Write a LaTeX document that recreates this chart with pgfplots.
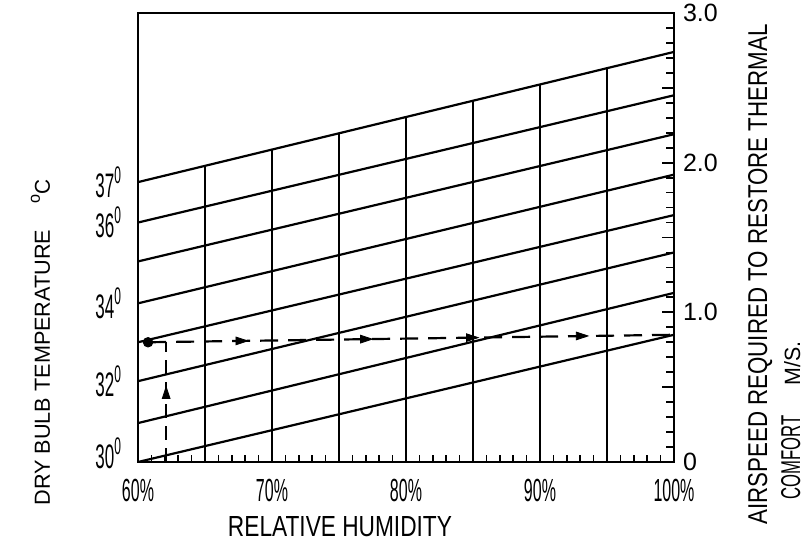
\documentclass[border=0pt]{standalone}
\usepackage{fontspec}
\setmainfont{Liberation Sans}[FakeStretch=0.7]
\newfontfamily\tickfont{Liberation Sans}[FakeStretch=0.5]
\newfontfamily\rfont{Liberation Sans}
\usepackage{graphicx}
\usepackage{pgfplots}
\pgfplotsset{compat=1.18}
\newcommand\dg[1]{#1\raisebox{0.42em}{\fontsize{12}{12}\selectfont 0}}
\begin{document}
\begin{tikzpicture}
\begin{axis}[name=ax, scale only axis, width=268pt, height=224.5pt,
  xmin=60, xmax=100, ymin=0, ymax=3,
  /pgf/number format/assume math mode=true,
  axis line style={line width=1.4pt},
  tick align=inside,
  xtick={60,70,80,90,100},
  xticklabels={60\%,70\%,80\%,90\%,100\%},
  minor xtick={61,62,63,64,65,66,67,68,69,71,72,73,74,75,76,77,78,79,81,82,83,84,85,86,87,88,89,91,92,93,94,95,96,97,98,99},
  xtick pos=lower,
  x tick style={line width=0.8pt, black},
  minor x tick style={line width=0.8pt, black},
  major tick length=4pt, minor tick length=3.5pt,
  xticklabel style={font=\tickfont\fontsize{16}{18}\selectfont, yshift=-5pt},
  ytick={0.06,0.54,1.06,1.60,1.87},
  yticklabels={\dg{30},\dg{32},\dg{34},\dg{36},\dg{37}},
  ytick pos=left,
  y tick style={draw=none},
  yticklabel style={font=\tickfont\fontsize{17}{19}\selectfont, xshift=-5pt},
]
% vertical grid lines from the bottom up to the 37 degree line
\addplot[ycomb, line width=0.7pt, black] coordinates {(65,1.98) (70,2.09) (75,2.20) (80,2.31) (85,2.41) (90,2.52) (95,2.63)};
% dry bulb temperature lines 30..37
\addplot[line width=1.1pt, black] coordinates {(60,0.00) (100,0.85)};
\addplot[line width=1.1pt, black] coordinates {(60,0.26) (100,1.13)};
\addplot[line width=1.1pt, black] coordinates {(60,0.54) (100,1.40)};
\addplot[line width=1.1pt, black] coordinates {(60,0.80) (100,1.65)};
\addplot[line width=1.1pt, black] coordinates {(60,1.06) (100,1.92)};
\addplot[line width=1.1pt, black] coordinates {(60,1.34) (100,2.19)};
\addplot[line width=1.1pt, black] coordinates {(60,1.60) (100,2.45)};
\addplot[line width=1.1pt, black] coordinates {(60,1.87) (100,2.74)};
% worked example (dashed)
\addplot[line width=1.1pt, black, dash pattern=on 7pt off 4pt] coordinates {(62.1,0) (62.1,0.80)};
\addplot[line width=1.1pt, black, dash pattern=on 9pt off 5pt] coordinates {(60.75,0.80) (100,0.85)};
\addplot[only marks, mark=triangle*, mark size=2.8pt, mark options={fill=black, yscale=1.4, xscale=0.8}] coordinates {(62.1,0.45)};
\addplot[only marks, mark=triangle*, mark size=2.8pt, mark options={fill=black, rotate=-90, yscale=1.4, xscale=0.8}] coordinates {(67.6,0.809) (76.9,0.821) (84.8,0.831) (93.0,0.842)};
\addplot[only marks, mark=*, mark size=2.4pt, mark options={fill=black}] coordinates {(60.75,0.80)};
\end{axis}
\begin{axis}[scale only axis, width=268pt, height=224.5pt,
  xmin=60, xmax=100, ymin=0, ymax=3,
  /pgf/number format/assume math mode=true,
  axis x line=none, axis y line*=right,
  axis line style={line width=1.4pt, -},
  tick align=inside,
  ytick={0,0.5,1,1.5,2,2.5,3},
  yticklabels={0,,1.0,,2.0,,3.0},
  minor ytick={0.1,0.2,0.3,0.4,0.6,0.7,0.8,0.9,1.1,1.2,1.3,1.4,1.6,1.7,1.8,1.9,2.1,2.2,2.3,2.4,2.6,2.7,2.8,2.9},
  major tick length=6pt, minor tick length=4pt,
  y tick style={line width=0.9pt, black},
  minor y tick style={line width=0.9pt, black},
  yticklabel style={font=\rfont\fontsize{12.5}{14}\selectfont, xshift=1pt},
]
\end{axis}
\begin{scope}[shift={(ax.south west)}]
\node[inner sep=0pt] at (101pt,-32.5pt) {\resizebox{112pt}{10pt}{RELATIVE HUMIDITY}};
\node[inner sep=0pt, rotate=90, anchor=base west] at (-44pt,-22pt)
  {\resizebox{138pt}{7.5pt}{DRY BULB TEMPERATURE}\hspace{13pt}\raisebox{5pt}{\resizebox{4.5pt}{4.5pt}{o}}\resizebox{7.5pt}{7.5pt}{C}};
\node[inner sep=0pt, rotate=90, anchor=base west] at (314.5pt,-31.5pt)
  {\resizebox{250pt}{9.5pt}{AIRSPEED REQUIRED TO RESTORE THERMAL}};
\node[inner sep=0pt, rotate=90, anchor=base west] at (331pt,-19pt)
  {\resizebox{42pt}{9.5pt}{COMFORT}\hspace{15pt}\resizebox{22pt}{8pt}{M/S.}};
\pgfresetboundingbox
\path[use as bounding box] (-69pt,-41pt) rectangle (335.5pt,231pt);
\end{scope}
\end{tikzpicture}
\end{document}
